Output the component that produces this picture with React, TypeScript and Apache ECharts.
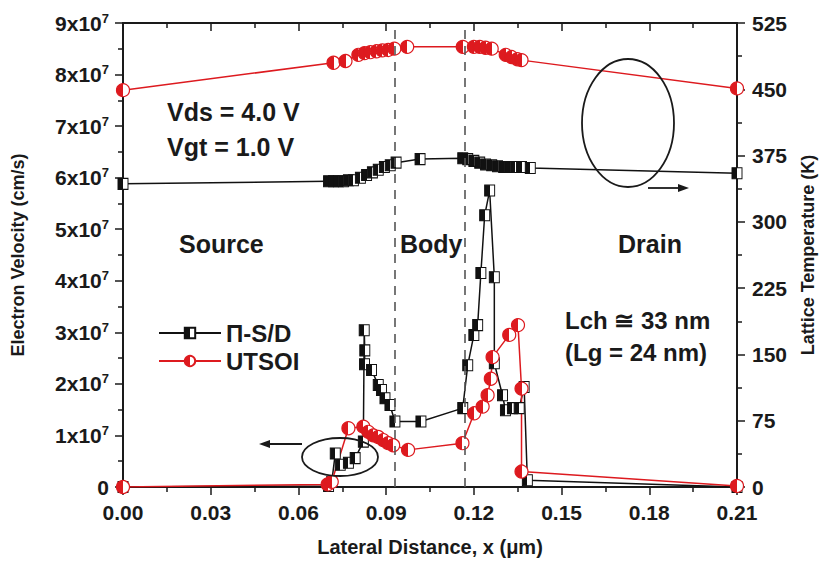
import React, { useEffect, useRef } from "react";
import * as echarts from "echarts";

// ---- data (x in µm, velocity in units of 1e7 cm/s, temperature in K) ----
const psdVelocity: [number, number][] = [
  [0.0, 0.0], [0.0703, 0.02], [0.0714, 0.1], [0.0726, 0.65], [0.0743, 0.43],
  [0.0771, 0.47], [0.0794, 0.56], [0.0822, 0.88], [0.0825, 3.04], [0.0827, 2.65],
  [0.0826, 2.38], [0.085, 2.27], [0.0873, 1.98], [0.0884, 1.88], [0.0896, 1.72],
  [0.0913, 1.59], [0.093, 1.27], [0.1019, 1.27], [0.1162, 1.53], [0.1179, 2.36],
  [0.12, 2.95], [0.1213, 3.14], [0.1224, 4.15], [0.1237, 5.27], [0.1254, 5.75],
  [0.127, 4.07], [0.127, 2.4], [0.1298, 1.78], [0.1308, 1.49], [0.1332, 1.53],
  [0.1355, 1.53], [0.1372, 1.94], [0.1383, 0.13], [0.21, 0.0],
];
const utsoiVelocity: [number, number][] = [
  [0.0, 0.0], [0.07, 0.05], [0.0714, 0.1], [0.0771, 1.14], [0.0822, 1.17],
  [0.0839, 1.07], [0.0856, 1.0], [0.0873, 0.97], [0.089, 0.91], [0.0907, 0.85],
  [0.0924, 0.81], [0.0975, 0.72], [0.1161, 0.85], [0.1201, 1.43], [0.123, 1.56],
  [0.1247, 1.78], [0.1258, 2.1], [0.1264, 2.52], [0.1321, 2.95], [0.1351, 3.14],
  [0.1363, 1.91], [0.1363, 0.3], [0.21, 0.02],
];
const psdTemperature: [number, number][] = [
  [0.0, 343], [0.0703, 346], [0.072, 346], [0.0737, 346], [0.0754, 346], [0.0771, 347],
  [0.0788, 347], [0.0812, 350], [0.0833, 353], [0.0853, 356], [0.0873, 359],
  [0.0894, 362], [0.0914, 364], [0.0934, 367], [0.1016, 371], [0.1162, 372],
  [0.1179, 371], [0.12, 369], [0.122, 367], [0.124, 365], [0.1261, 364], [0.1281, 363],
  [0.1302, 362], [0.1322, 362], [0.1342, 362], [0.1363, 362], [0.1393, 361], [0.21, 355],
];
const utsoiTemperature: [number, number][] = [
  [0.0, 449], [0.072, 480], [0.0761, 482], [0.0805, 489], [0.0826, 491], [0.0846, 492],
  [0.0867, 493], [0.0887, 494], [0.0907, 494.5], [0.0928, 496], [0.0972, 498],
  [0.1162, 498], [0.12, 498], [0.122, 498], [0.124, 497], [0.1261, 496], [0.1309, 489],
  [0.1329, 486.5], [0.1349, 484], [0.1363, 483], [0.21, 451],
];
const regionBoundaries = [0.0931, 0.1169];
const seriesNames = ["\u03a0-S/D", "UTSOI"];

const FONT = '"Liberation Sans", Arial, Helvetica, sans-serif';
const INK = "#1a1a1a";
const RED = "#dd1a1f";

const halfFill = (c: string) => ({
  type: "linear", x: 0, y: 0, x2: 1, y2: 0,
  colorStops: [
    { offset: 0, color: c }, { offset: 0.5, color: c },
    { offset: 0.5, color: "#ffffff" }, { offset: 1, color: "#ffffff" },
  ],
});

export default function App() {
  const ref = useRef<HTMLDivElement>(null);
  useEffect(() => {
    document.body.style.margin = "0";
    const chart = echarts.init(ref.current!, undefined, { renderer: "svg" });
    const squareStyle = { color: halfFill("#111"), borderColor: "#111", borderWidth: 1 };
    const circleStyle = { color: halfFill(RED), borderColor: RED, borderWidth: 1.2 };
    const txt = (text: string, x: number, y: number, size = 25) => ({
      type: "text", x, y, z: 100,
      style: { text, fill: INK, font: `bold ${size}px ${FONT}`, textVerticalAlign: "middle" },
    });
    const option: any = {
      animation: false,
      backgroundColor: "#ffffff",
      grid: { left: 123, right: 84, top: 23, bottom: 75 },
      legend: {
        selectedMode: false,
        orient: "vertical",
        left: 153, top: 316,
        itemWidth: 62, itemHeight: 13, itemGap: 4,
        data: seriesNames,
        textStyle: { fontFamily: FONT, fontWeight: "bold", fontSize: 24, color: INK },
      },
      xAxis: [
        {
          type: "value", min: 0, max: 0.21, interval: 0.03,
          name: "Lateral Distance, x (\u03bcm)", nameLocation: "middle", nameGap: 50,
          nameTextStyle: { fontFamily: FONT, fontWeight: "bold", fontSize: 20, color: INK },
          axisLine: { onZero: false, lineStyle: { color: INK, width: 2 } },
          axisTick: { inside: false, length: 8, lineStyle: { color: INK, width: 1.5 } },
          minorTick: { show: true, splitNumber: 2, length: 5, lineStyle: { color: INK, width: 1.5 } },
          axisLabel: {
            margin: 15, fontFamily: FONT, fontWeight: "bold", fontSize: 21, color: INK,
            formatter: (v: number) => v.toFixed(2),
          },
          splitLine: { show: false },
        },
        {
          type: "value", position: "top", min: 0, max: 0.21, interval: 0.03,
          axisLine: { onZero: false, lineStyle: { color: INK, width: 2 } },
          axisTick: { inside: true, length: 8, lineStyle: { color: INK, width: 1.5 } },
          minorTick: { show: true, splitNumber: 2, length: 5, lineStyle: { color: INK, width: 1.5 } },
          axisLabel: { show: false },
          splitLine: { show: false },
        },
      ],
      yAxis: [
        {
          type: "value", min: 0, max: 9, interval: 1, position: "left",
          name: "Electron Velocity (cm/s)", nameLocation: "middle", nameGap: 96, nameRotate: 90,
          nameTextStyle: { fontFamily: FONT, fontWeight: "bold", fontSize: 18, color: INK },
          axisLine: { show: true, onZero: false, lineStyle: { color: INK, width: 2 } },
          axisTick: { show: true, length: 8, lineStyle: { color: INK, width: 1.5 } },
          minorTick: { show: true, splitNumber: 2, length: 5, lineStyle: { color: INK, width: 1.5 } },
          axisLabel: {
            margin: 14, color: INK,
            formatter: (v: number) => (v === 0 ? "{b|0}" : `{b|${v}x10}{s|7}`),
            rich: {
              b: { fontFamily: FONT, fontWeight: "bold", fontSize: 21, color: INK },
              s: { fontFamily: FONT, fontWeight: "bold", fontSize: 13, color: INK, verticalAlign: "top", padding: [0, 0, 10, 0] },
            },
          },
          splitLine: { show: false },
        },
        {
          type: "value", min: 0, max: 525, interval: 75, position: "right",
          name: "Lattice Temperature (K)", nameLocation: "middle", nameGap: 62, nameRotate: 90,
          nameTextStyle: { fontFamily: FONT, fontWeight: "bold", fontSize: 18, color: INK },
          axisLine: { show: true, onZero: false, lineStyle: { color: INK, width: 2 } },
          axisTick: { show: true, length: 8, lineStyle: { color: INK, width: 1.5 } },
          minorTick: { show: true, splitNumber: 2, length: 5, lineStyle: { color: INK, width: 1.5 } },
          axisLabel: { margin: 15, fontFamily: FONT, fontWeight: "bold", fontSize: 21, color: INK },
          splitLine: { show: false },
        },
      ],
      series: [
        {
          name: seriesNames[0], type: "line", xAxisIndex: 0, yAxisIndex: 0, data: psdVelocity,
          symbol: "rect", symbolSize: [10, 11], showAllSymbol: true,
          itemStyle: squareStyle, lineStyle: { color: "#111", width: 1.5 },
          markLine: {
            silent: true, precision: 4, symbol: ["none", "none"], label: { show: false },
            lineStyle: { type: [9, 7], color: "#555", width: 1.6 },
            data: regionBoundaries.map((x) => ({ xAxis: x })),
          },
        },
        {
          name: seriesNames[1], type: "line", xAxisIndex: 0, yAxisIndex: 0, data: utsoiVelocity,
          symbol: "circle", symbolSize: 13, showAllSymbol: true,
          itemStyle: circleStyle, lineStyle: { color: RED, width: 1.5 },
        },
        {
          name: seriesNames[0], type: "line", xAxisIndex: 0, yAxisIndex: 1, data: psdTemperature,
          symbol: "rect", symbolSize: [10, 11], showAllSymbol: true,
          itemStyle: squareStyle, lineStyle: { color: "#111", width: 1.5 },
        },
        {
          name: seriesNames[1], type: "line", xAxisIndex: 0, yAxisIndex: 1, data: utsoiTemperature,
          symbol: "circle", symbolSize: 13, showAllSymbol: true,
          itemStyle: circleStyle, lineStyle: { color: RED, width: 1.5 },
        },
      ],
      graphic: [
        txt("Vds = 4.0 V", 167, 112),
        txt("Vgt = 1.0 V", 167, 147),
        txt("Source", 179, 244),
        txt("Body", 400, 244),
        txt("Drain", 618, 244),
        txt("Lch \u2245 33 nm", 565, 320, 24),
        txt("(Lg = 24 nm)", 565, 352, 24),
        { type: "ellipse", z: 100, shape: { cx: 628, cy: 123, rx: 46, ry: 64 }, style: { fill: null, stroke: INK, lineWidth: 1.8 } },
        { type: "line", z: 100, shape: { x1: 648, y1: 188, x2: 680, y2: 188 }, style: { stroke: INK, lineWidth: 1.8 } },
        { type: "polygon", z: 100, shape: { points: [[689, 188], [678, 184], [678, 192]] }, style: { fill: INK } },
        { type: "ellipse", z: 100, shape: { cx: 340, cy: 457, rx: 38, ry: 19 }, style: { fill: null, stroke: INK, lineWidth: 1.8 } },
        { type: "line", z: 100, shape: { x1: 302, y1: 444, x2: 268, y2: 444 }, style: { stroke: INK, lineWidth: 1.8 } },
        { type: "polygon", z: 100, shape: { points: [[259, 444], [270, 440], [270, 448]] }, style: { fill: INK } },
      ],
    };
    chart.setOption(option);
    return () => chart.dispose();
  }, []);
  return <div ref={ref} style={{ width: 825, height: 562 }} />;
}
